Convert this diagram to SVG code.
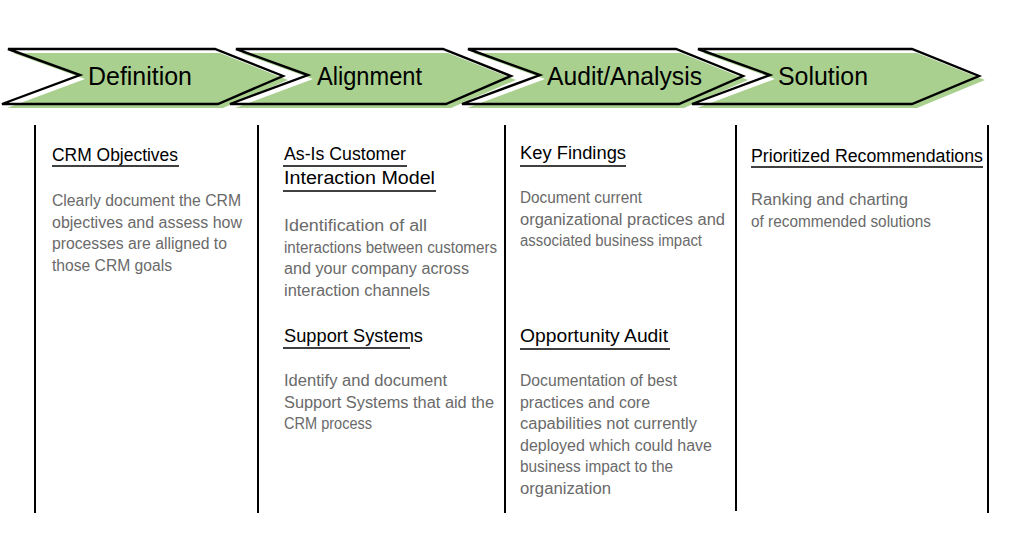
<svg xmlns="http://www.w3.org/2000/svg" width="1024" height="557" viewBox="0 0 1024 557">
<style>
.bg{fill:#ffffff}
.fillg{fill:#a9d08e;stroke:none}
.outline{fill:none;stroke:#000;stroke-width:2.4;stroke-linejoin:miter}
.lbl{font-family:"Liberation Sans",Arial,sans-serif;font-size:26px;fill:#000}
.hd{font-family:"Liberation Sans",Arial,sans-serif;font-size:18px;fill:#000}
.bd{font-family:"Liberation Sans",Arial,sans-serif;font-size:16px;fill:#6a6a6a}
.ul{stroke:#000;stroke-width:1.4;fill:none}
.div{stroke:#000;stroke-width:2;fill:none}
</style>
<rect class="bg" x="0" y="0" width="1024" height="557"/>

<g id="phase-definition">
  <polygon class="fillg" points="13,53 220,53 288,80 223,108 7,108 85,79"/>
  <polygon class="outline" points="8,49 215,49 283,76 218,104 2,104 80,75"/>
  <text class="lbl" x="88" y="85" textLength="104" lengthAdjust="spacingAndGlyphs">Definition</text>
</g>

<g id="phase-alignment">
  <polygon class="fillg" points="241,53 448,53 516,80 451,108 235,108 313,79"/>
  <polygon class="outline" points="236,49 443,49 511,76 446,104 230,104 308,75"/>
  <text class="lbl" x="317" y="85" textLength="105" lengthAdjust="spacingAndGlyphs">Alignment</text>
</g>

<g id="phase-audit">
  <polygon class="fillg" points="473,53 681,53 748,80 684,108 467,108 545,79"/>
  <polygon class="outline" points="468,49 676,49 743,76 679,104 462,104 540,75"/>
  <text class="lbl" x="547" y="85" textLength="155" lengthAdjust="spacingAndGlyphs">Audit/Analysis</text>
</g>

<g id="phase-solution">
  <polygon class="fillg" points="703,53 917,53 985,80 917,108 697,108 775,79"/>
  <polygon class="outline" points="698,49 912,49 979,76 912,104 692,104 770,75"/>
  <text class="lbl" x="778" y="85" textLength="90" lengthAdjust="spacingAndGlyphs">Solution</text>
</g>

<g id="connectors">
  <line class="div" x1="35" y1="125" x2="35" y2="513"/>
  <line class="div" x1="258" y1="125" x2="258" y2="513"/>
  <line class="div" x1="505" y1="125" x2="505" y2="513"/>
  <line class="div" x1="736" y1="125" x2="736" y2="511"/>
  <line class="div" x1="988" y1="125" x2="988" y2="513"/>
</g>

<g id="col-definition">
  <text class="hd" x="52" y="161" textLength="126" lengthAdjust="spacingAndGlyphs">CRM Objectives</text>
  <line class="ul" x1="52" y1="166" x2="179" y2="166"/>
  <text class="bd" x="52" y="206" textLength="189" lengthAdjust="spacingAndGlyphs">Clearly document the CRM</text>
  <text class="bd" x="52" y="227.5" textLength="190" lengthAdjust="spacingAndGlyphs">objectives and assess how</text>
  <text class="bd" x="52" y="249" textLength="175" lengthAdjust="spacingAndGlyphs">processes are alligned to</text>
  <text class="bd" x="52" y="270.5" textLength="120" lengthAdjust="spacingAndGlyphs">those CRM goals</text>
</g>

<g id="col-alignment">
  <text class="hd" x="284" y="160" textLength="122" lengthAdjust="spacingAndGlyphs">As-Is Customer</text>
  <line class="ul" x1="283" y1="166" x2="407" y2="166"/>
  <text class="hd" x="284" y="184" textLength="151" lengthAdjust="spacingAndGlyphs">Interaction Model</text>
  <line class="ul" x1="283" y1="191" x2="436" y2="191"/>
  <text class="bd" x="284" y="231" textLength="143" lengthAdjust="spacingAndGlyphs">Identification of all</text>
  <text class="bd" x="284" y="252.5" textLength="213" lengthAdjust="spacingAndGlyphs">interactions between customers</text>
  <text class="bd" x="284" y="274" textLength="185" lengthAdjust="spacingAndGlyphs">and your company across</text>
  <text class="bd" x="284" y="295.5" textLength="146" lengthAdjust="spacingAndGlyphs">interaction channels</text>
  <text class="hd" x="284" y="342" textLength="139" lengthAdjust="spacingAndGlyphs">Support Systems</text>
  <line class="ul" x1="283" y1="348" x2="410" y2="348"/>
  <text class="bd" x="284" y="386" textLength="163" lengthAdjust="spacingAndGlyphs">Identify and document</text>
  <text class="bd" x="284" y="407.5" textLength="210" lengthAdjust="spacingAndGlyphs">Support Systems that aid the</text>
  <text class="bd" x="284" y="429" textLength="88" lengthAdjust="spacingAndGlyphs">CRM process</text>
</g>

<g id="col-audit">
  <text class="hd" x="520" y="159" textLength="106" lengthAdjust="spacingAndGlyphs">Key Findings</text>
  <line class="ul" x1="520" y1="166" x2="626" y2="166"/>
  <text class="bd" x="520" y="203" textLength="122" lengthAdjust="spacingAndGlyphs">Document current</text>
  <text class="bd" x="520" y="224.5" textLength="205" lengthAdjust="spacingAndGlyphs">organizational practices and</text>
  <text class="bd" x="520" y="246" textLength="182" lengthAdjust="spacingAndGlyphs">associated business impact</text>
  <text class="hd" x="520" y="342" textLength="148" lengthAdjust="spacingAndGlyphs">Opportunity Audit</text>
  <line class="ul" x1="520" y1="349" x2="670" y2="349"/>
  <text class="bd" x="520" y="386" textLength="157" lengthAdjust="spacingAndGlyphs">Documentation of best</text>
  <text class="bd" x="520" y="407.5" textLength="130" lengthAdjust="spacingAndGlyphs">practices and core</text>
  <text class="bd" x="520" y="429" textLength="177" lengthAdjust="spacingAndGlyphs">capabilities not currently</text>
  <text class="bd" x="520" y="450.5" textLength="192" lengthAdjust="spacingAndGlyphs">deployed which could have</text>
  <text class="bd" x="520" y="472" textLength="153" lengthAdjust="spacingAndGlyphs">business impact to the</text>
  <text class="bd" x="520" y="493.5" textLength="91" lengthAdjust="spacingAndGlyphs">organization</text>
</g>

<g id="col-solution">
  <text class="hd" x="751" y="162" textLength="232" lengthAdjust="spacingAndGlyphs">Prioritized Recommendations</text>
  <line class="ul" x1="751" y1="167" x2="983" y2="167"/>
  <text class="bd" x="751" y="205" textLength="157" lengthAdjust="spacingAndGlyphs">Ranking and charting</text>
  <text class="bd" x="751" y="226.5" textLength="180" lengthAdjust="spacingAndGlyphs">of recommended solutions</text>
</g>
</svg>
